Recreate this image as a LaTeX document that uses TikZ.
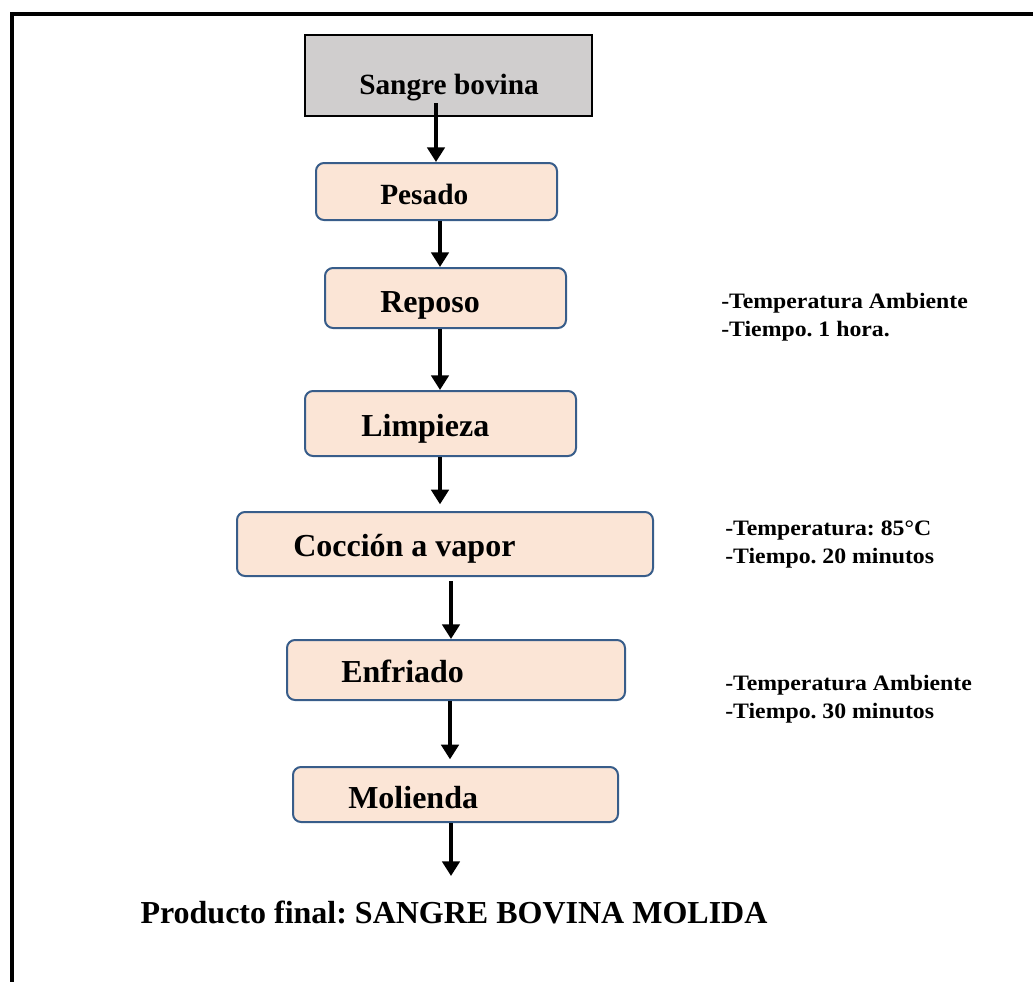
\documentclass[tikz,border=0pt]{standalone}
\usepackage{fontspec}
\setmainfont{Liberation Serif}
\newfontfamily\notefont{Liberation Serif}[FakeStretch=1.08]
\usepackage{tikz}
\usetikzlibrary{positioning,fit,arrows.meta}
\definecolor{boxfill}{HTML}{FBE5D6}
\definecolor{boxline}{HTML}{385D8A}
\definecolor{startfill}{HTML}{D0CECE}
\frenchspacing

\begin{document}
\begin{tikzpicture}[x=0.75pt,y=-0.75pt,
    startbox/.style={draw=black, line width=1.5pt, fill=startfill, inner sep=0pt},
    procbox/.style={draw=boxline, line width=1.5pt, fill=boxfill, rounded corners=6pt, inner sep=0pt},
    lbl/.style={font=\bfseries\fontsize{24}{28}\selectfont, inner sep=0pt, anchor=base west},
    note/.style={font=\notefont\bfseries\fontsize{16.5}{21}\selectfont, align=left, inner sep=0pt, anchor=north west},
    flow/.style={line width=3pt, -{Triangle[width=13pt,length=11pt]}}]
    \useasboundingbox (0,0) rectangle (1033,982);

    % outer frame
    \draw[line width=3pt] (12,1000) -- (12,14) -- (1050,14);

    % boxes
    \node[startbox, fit={(305,35) (592,116)}] (sangre) {};
    \node[procbox, fit={(316,163) (557,220)}] (pesado) {};
    \node[procbox, fit={(325,268) (566,328)}] (reposo) {};
    \node[procbox, fit={(305,391) (576,456)}] (limpieza) {};
    \node[procbox, fit={(237,512) (653,576)}] (coccion) {};
    \node[procbox, fit={(287,640) (625,700)}] (enfriado) {};
    \node[procbox, fit={(293,767) (618,822)}] (molienda) {};

    % labels
    \node[lbl, font=\bfseries\fontsize{22}{26}\selectfont] (sangretxt) at (359,94) {Sangre bovina};
    \node[lbl, font=\bfseries\fontsize{22}{26}\selectfont] (pesadotxt) at (380,204) {Pesado};
    \node[lbl] (repusotxt) at (380,312) {Reposo};
    \node[lbl] (limpiezatxt) at (361,436) {Limpieza};
    \node[lbl] (cocciontxt) at (293,556) {Cocción a vapor};
    \node[lbl] (enfriadotxt) at (341,682) {Enfriado};
    \node[lbl] (molidatxt) at (348,808) {Molienda};

    % side notes
    \node[note] (reposonote) at (721,293) {-Temperatura Ambiente\\-Tiempo. 1 hora.};
    \node[note] (coccionnote) at (725,521) {-Temperatura: 85\textdegree C\\-Tiempo. 20 minutos};
    \node[note] (enfriadonote) at (725,675) {-Temperatura Ambiente\\-Tiempo. 30 minutos};

    % arrows
    \coordinate (c1) at (436,0);
    \coordinate (c2) at (440,0);
    \coordinate (c5) at (451,0);
    \coordinate (c6) at (450,0);
    \coordinate (prodend) at (451,876);
    \draw[flow] (sangre.south -| c1) ++(0,-14) -- (pesado.north -| c1);
    \draw[flow] (pesado.south -| c2) -- (reposo.north -| c2);
    \draw[flow] (reposo.south -| c2) -- (limpieza.north -| c2);
    \draw[flow] (limpieza.south -| c2) -- ([yshift=5pt]coccion.north -| c2);
    \draw[flow] ([yshift=-3pt]coccion.south -| c5) -- (enfriado.north -| c5);
    \draw[flow] (enfriado.south -| c6) -- ([yshift=5pt]molienda.north -| c6);
    \draw[flow] (molienda.south -| c5) -- (prodend);

    \node[font=\bfseries\fontsize{24}{28}\selectfont, inner sep=0pt] (producto) at (454,912) {Producto final: SANGRE BOVINA MOLIDA};
\end{tikzpicture}
\end{document}
